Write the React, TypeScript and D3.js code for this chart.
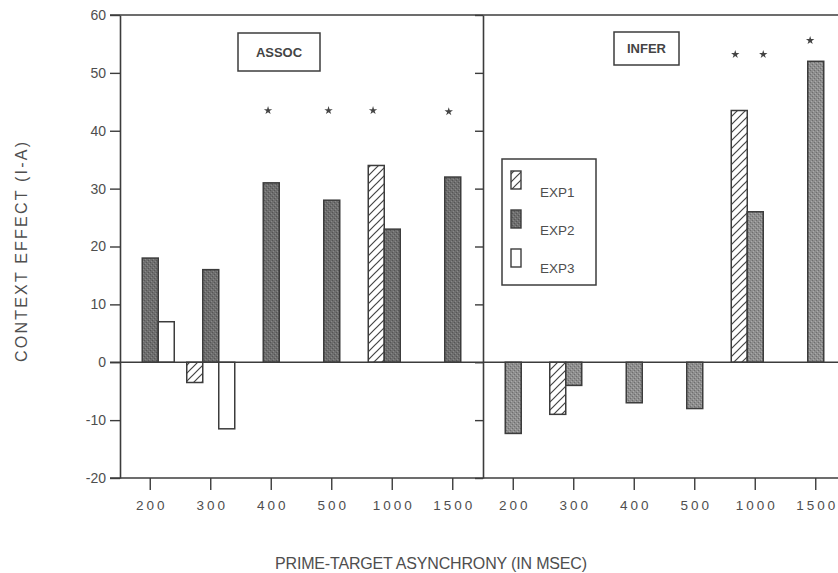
import * as d3 from "d3";
import React, { useEffect, useRef } from "react";

// data
const delays = ["200", "300", "400", "500", "1000", "1500"];
const exps = ["EXP1", "EXP2", "EXP3"];
const panels = ["ASSOC", "INFER"];
const yTicks = [-20, -10, 0, 10, 20, 30, 40, 50, 60];

// context effect (I-A), null = no bar
const assocExp1 = [null, -3.5, null, null, 34, null];
const assocExp2 = [18, 16, 31, 28, 23, 32];
const assocExp3 = [7, -11.5, null, null, null, null];
const inferExp1 = [null, -9, null, null, 43.5, null];
const inferExp2 = [-12.3, -4, -7, -8, 26, 52];
const inferExp3 = [null, null, null, null, null, null];

// significance stars: [panel, delay, slot offset, height]
const stars = [
  ["ASSOC", "400", -0.2, 43.5],
  ["ASSOC", "500", -0.2, 43.5],
  ["ASSOC", "1000", -1.2, 43.5],
  ["ASSOC", "1500", -0.25, 43.3],
  ["INFER", "1000", -1.25, 53.2],
  ["INFER", "1000", 0.5, 53.2],
  ["INFER", "1500", -0.35, 55.6],
];

const W = 838;
const H = 573;
const ink = "#3c3c3c";
const textCol = "#4e4e4e";
const font = "'Liberation Sans', Arial, sans-serif";

export default function App() {
  const svgRef = useRef(null);

  useEffect(() => {
    const svg = d3.select(svgRef.current);
    svg.selectAll("*").remove();

    const top = 15;
    const bottom = 478;
    const left = 120;

    const y = d3.scaleLinear().domain([-20, 60]).range([bottom, top]);
    const panelX = d3.scaleBand().domain(panels).range([left, left + 726]);
    const x = d3.scaleBand().domain(delays).range([0, panelX.bandwidth()]);
    const slot = d3.scaleBand().domain(exps).range([-24, 24]);

    // patterns
    const defs = svg.append("defs");
    const hatch = defs
      .append("pattern")
      .attr("id", "hatch")
      .attr("patternUnits", "userSpaceOnUse")
      .attr("width", 8)
      .attr("height", 8);
    hatch.append("rect").attr("width", 8).attr("height", 8).attr("fill", "#fff");
    hatch
      .append("path")
      .attr("d", "M0,8 L8,0 M-2,2 L2,-2 M6,10 L10,6")
      .attr("stroke", "#444")
      .attr("stroke-width", 1.2);

    const stipple = (id, base, dark, light) => {
      const p = defs
        .append("pattern")
        .attr("id", id)
        .attr("patternUnits", "userSpaceOnUse")
        .attr("width", 4)
        .attr("height", 4);
      p.append("rect").attr("width", 4).attr("height", 4).attr("fill", base);
      p.append("rect").attr("x", 0).attr("y", 0).attr("width", 1).attr("height", 1).attr("fill", dark);
      p.append("rect").attr("x", 2).attr("y", 2).attr("width", 1).attr("height", 1).attr("fill", dark);
      p.append("rect").attr("x", 1).attr("y", 3).attr("width", 1).attr("height", 1).attr("fill", light);
      p.append("rect").attr("x", 3).attr("y", 1).attr("width", 1).attr("height", 1).attr("fill", light);
    };
    stipple("dotsDark", "#6e6e6e", "#555", "#888");
    stipple("dotsLight", "#8e8e8e", "#6e6e6e", "#aaa");

    const fills = {
      ASSOC: { EXP1: "url(#hatch)", EXP2: "url(#dotsDark)", EXP3: "#fff" },
      INFER: { EXP1: "url(#hatch)", EXP2: "url(#dotsLight)", EXP3: "#fff" },
    };

    const series = {
      ASSOC: { EXP1: assocExp1, EXP2: assocExp2, EXP3: assocExp3 },
      INFER: { EXP1: inferExp1, EXP2: inferExp2, EXP3: inferExp3 },
    };

    const bars = [];
    panels.forEach((p) =>
      exps.forEach((e) =>
        series[p][e].forEach((v, i) => {
          if (v !== null) bars.push({ panel: p, exp: e, delay: delays[i], value: v });
        })
      )
    );

    const cx = (p, d) => panelX(p) + x(d) + x.bandwidth() / 2;

    // bars
    svg
      .append("g")
      .selectAll("rect")
      .data(bars)
      .join("rect")
      .attr("x", (d) => cx(d.panel, d.delay) + slot(d.exp))
      .attr("y", (d) => y(Math.max(0, d.value)))
      .attr("width", slot.bandwidth())
      .attr("height", (d) => Math.abs(y(d.value) - y(0)))
      .attr("fill", (d) => fills[d.panel][d.exp])
      .attr("stroke", ink)
      .attr("stroke-width", 1.5);

    // frame lines
    const frame = svg.append("g").attr("stroke", ink).attr("stroke-width", 1.6);
    frame.append("line").attr("x1", 110).attr("x2", W).attr("y1", top).attr("y2", top);
    frame.append("line").attr("x1", 110).attr("x2", W).attr("y1", bottom).attr("y2", bottom);
    frame.append("line").attr("x1", 110).attr("x2", W).attr("y1", y(0)).attr("y2", y(0));

    // y axis
    const yAxis = d3
      .axisLeft(y)
      .tickValues(yTicks)
      .tickSize(10)
      .tickSizeOuter(0)
      .tickPadding(4)
      .tickFormat((d) => (d < 0 ? `-${Math.abs(d)}` : `${d}`));
    const yG = svg.append("g").attr("transform", `translate(${left},0)`).call(yAxis);
    yG.select(".domain").attr("stroke", ink).attr("stroke-width", 1.6);
    yG.selectAll(".tick line").attr("stroke", ink).attr("stroke-width", 1.4);
    yG.selectAll(".tick text")
      .attr("fill", textCol)
      .attr("font-family", font)
      .attr("font-size", 14);

    // divider between the panels
    const dG = svg
      .append("g")
      .attr("transform", `translate(${panelX("INFER")},0)`)
      .call(d3.axisLeft(y).tickValues(yTicks).tickSize(8).tickSizeOuter(0).tickFormat(() => ""));
    dG.select(".domain").attr("stroke", ink).attr("stroke-width", 1.6);
    dG.selectAll(".tick line").attr("stroke", ink).attr("stroke-width", 1.4);

    // x axes
    panels.forEach((p) => {
      const xG = svg
        .append("g")
        .attr("transform", `translate(${panelX(p)},${bottom})`)
        .call(d3.axisBottom(x).tickSize(12).tickPadding(10));
      xG.select(".domain").remove();
      xG.selectAll(".tick line").attr("stroke", ink).attr("stroke-width", 1.4);
      xG.selectAll(".tick text")
        .attr("fill", textCol)
        .attr("font-family", font)
        .attr("font-size", 13.5)
        .attr("letter-spacing", 3)
        .attr("dx", 1.5);
    });

    // stars
    svg
      .append("g")
      .selectAll("path")
      .data(stars)
      .join("path")
      .attr("d", d3.symbol(d3.symbolStar, 22))
      .attr("transform", (d) => `translate(${cx(d[0], d[1]) + d[2] * slot.step()},${y(d[3])})`)
      .attr("fill", "#444");

    // panel labels
    const boxes = [
      { panel: "ASSOC", dx: 118, y0: 33, w: 82, h: 38 },
      { panel: "INFER", dx: 131, y0: 32, w: 65, h: 33 },
    ];
    boxes.forEach((b) => {
      const bx = panelX(b.panel) + b.dx;
      svg
        .append("rect")
        .attr("x", bx)
        .attr("y", b.y0)
        .attr("width", b.w)
        .attr("height", b.h)
        .attr("fill", "#fff")
        .attr("stroke", ink)
        .attr("stroke-width", 1.5);
      svg
        .append("text")
        .attr("x", bx + b.w / 2)
        .attr("y", b.y0 + b.h / 2 + 4.5)
        .attr("text-anchor", "middle")
        .attr("font-family", font)
        .attr("font-weight", "bold")
        .attr("font-size", 13)
        .attr("fill", "#444")
        .text(b.panel);
    });

    // legend
    const lg = svg.append("g").attr("transform", "translate(502,159)");
    lg.append("rect")
      .attr("width", 94)
      .attr("height", 126)
      .attr("fill", "#fff")
      .attr("stroke", ink)
      .attr("stroke-width", 1.5);
    const legendFill = ["url(#hatch)", "url(#dotsDark)", "#fff"];
    exps.forEach((e, i) => {
      lg.append("rect")
        .attr("x", 9)
        .attr("y", 12 + i * 39)
        .attr("width", 10)
        .attr("height", 18)
        .attr("fill", legendFill[i])
        .attr("stroke", ink)
        .attr("stroke-width", 1.4);
      lg.append("text")
        .attr("x", 38)
        .attr("y", 38 + i * 38)
        .attr("font-family", font)
        .attr("font-size", 13.5)
        .attr("fill", textCol)
        .text(e);
    });

    // axis titles
    svg
      .append("text")
      .attr("transform", "translate(27,252) rotate(-90)")
      .attr("text-anchor", "middle")
      .attr("font-family", font)
      .attr("font-size", 16)
      .attr("fill", textCol)
      .attr("textLength", 220)
      .attr("lengthAdjust", "spacing")
      .text("CONTEXT EFFECT (I-A)");
    svg
      .append("text")
      .attr("x", 431)
      .attr("y", 569)
      .attr("text-anchor", "middle")
      .attr("font-family", font)
      .attr("font-size", 16)
      .attr("fill", textCol)
      .attr("textLength", 312)
      .attr("lengthAdjust", "spacing")
      .text("PRIME-TARGET ASYNCHRONY (IN MSEC)");
  }, []);

  return (
    <svg
      ref={svgRef}
      width={W}
      height={H}
      style={{ position: "absolute", left: 0, top: 0, background: "#fff" }}
    />
  );
}
